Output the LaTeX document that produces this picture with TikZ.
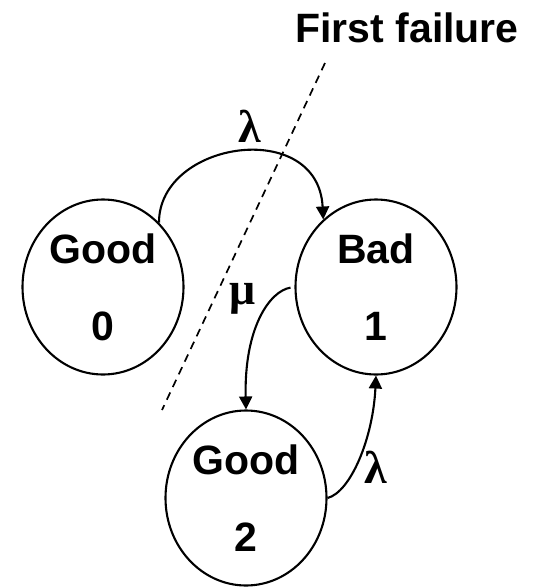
\documentclass[tikz,border=0pt]{standalone}
\usepackage{fontspec}
\setmainfont{Liberation Sans}
\newfontfamily\grk{Liberation Serif}
\usetikzlibrary{shapes.geometric,arrows.meta}
\begin{document}
\begin{tikzpicture}[x=1pt,y=-1pt, line width=2.1pt,
  state/.style={ellipse, draw, minimum width=161pt, minimum height=175pt, inner sep=0pt, align=center, font=\bfseries\fontsize{41pt}{77pt}\selectfont},
  arr/.style={-{Triangle[length=13pt,width=13pt]}},
  lbl/.style={font=\grk\bfseries\fontsize{46pt}{50pt}\selectfont, inner sep=0pt}]
\useasboundingbox (0,0) rectangle (539,587);
\node[state] (g0) at (103,287) {Good\\0};
\node[state] (b1) at (376,287) {Bad\\1};
\node[state] (g2) at (246,498) {Good\\2};
\node[font=\bfseries\fontsize{41pt}{49pt}\selectfont, anchor=base, inner sep=0pt] (ff) at (407,42) {First failure};
\coordinate (d1) at (325,63);
\coordinate (d2) at (162,410);
\draw[line width=1.7pt, dash pattern=on 8pt off 6pt] (d1) -- (d2);
\draw[arr] (g0.49) .. controls +(0,-82) and +(-5,-102) .. (b1.128);
\draw[arr, shorten <=4pt] (b1.180) .. controls +(-25,4) and +(-2,-81) .. (g2.north);
\draw[arr] (g2.east) .. controls +(23,-6) and +(-3,63) .. (b1.south);
\node[lbl] (l1) at (250,126) {λ};
\node[lbl] (mu) at (243,299) {μ};
\node[lbl] (l2) at (376,467) {λ};
\end{tikzpicture}
\end{document}
